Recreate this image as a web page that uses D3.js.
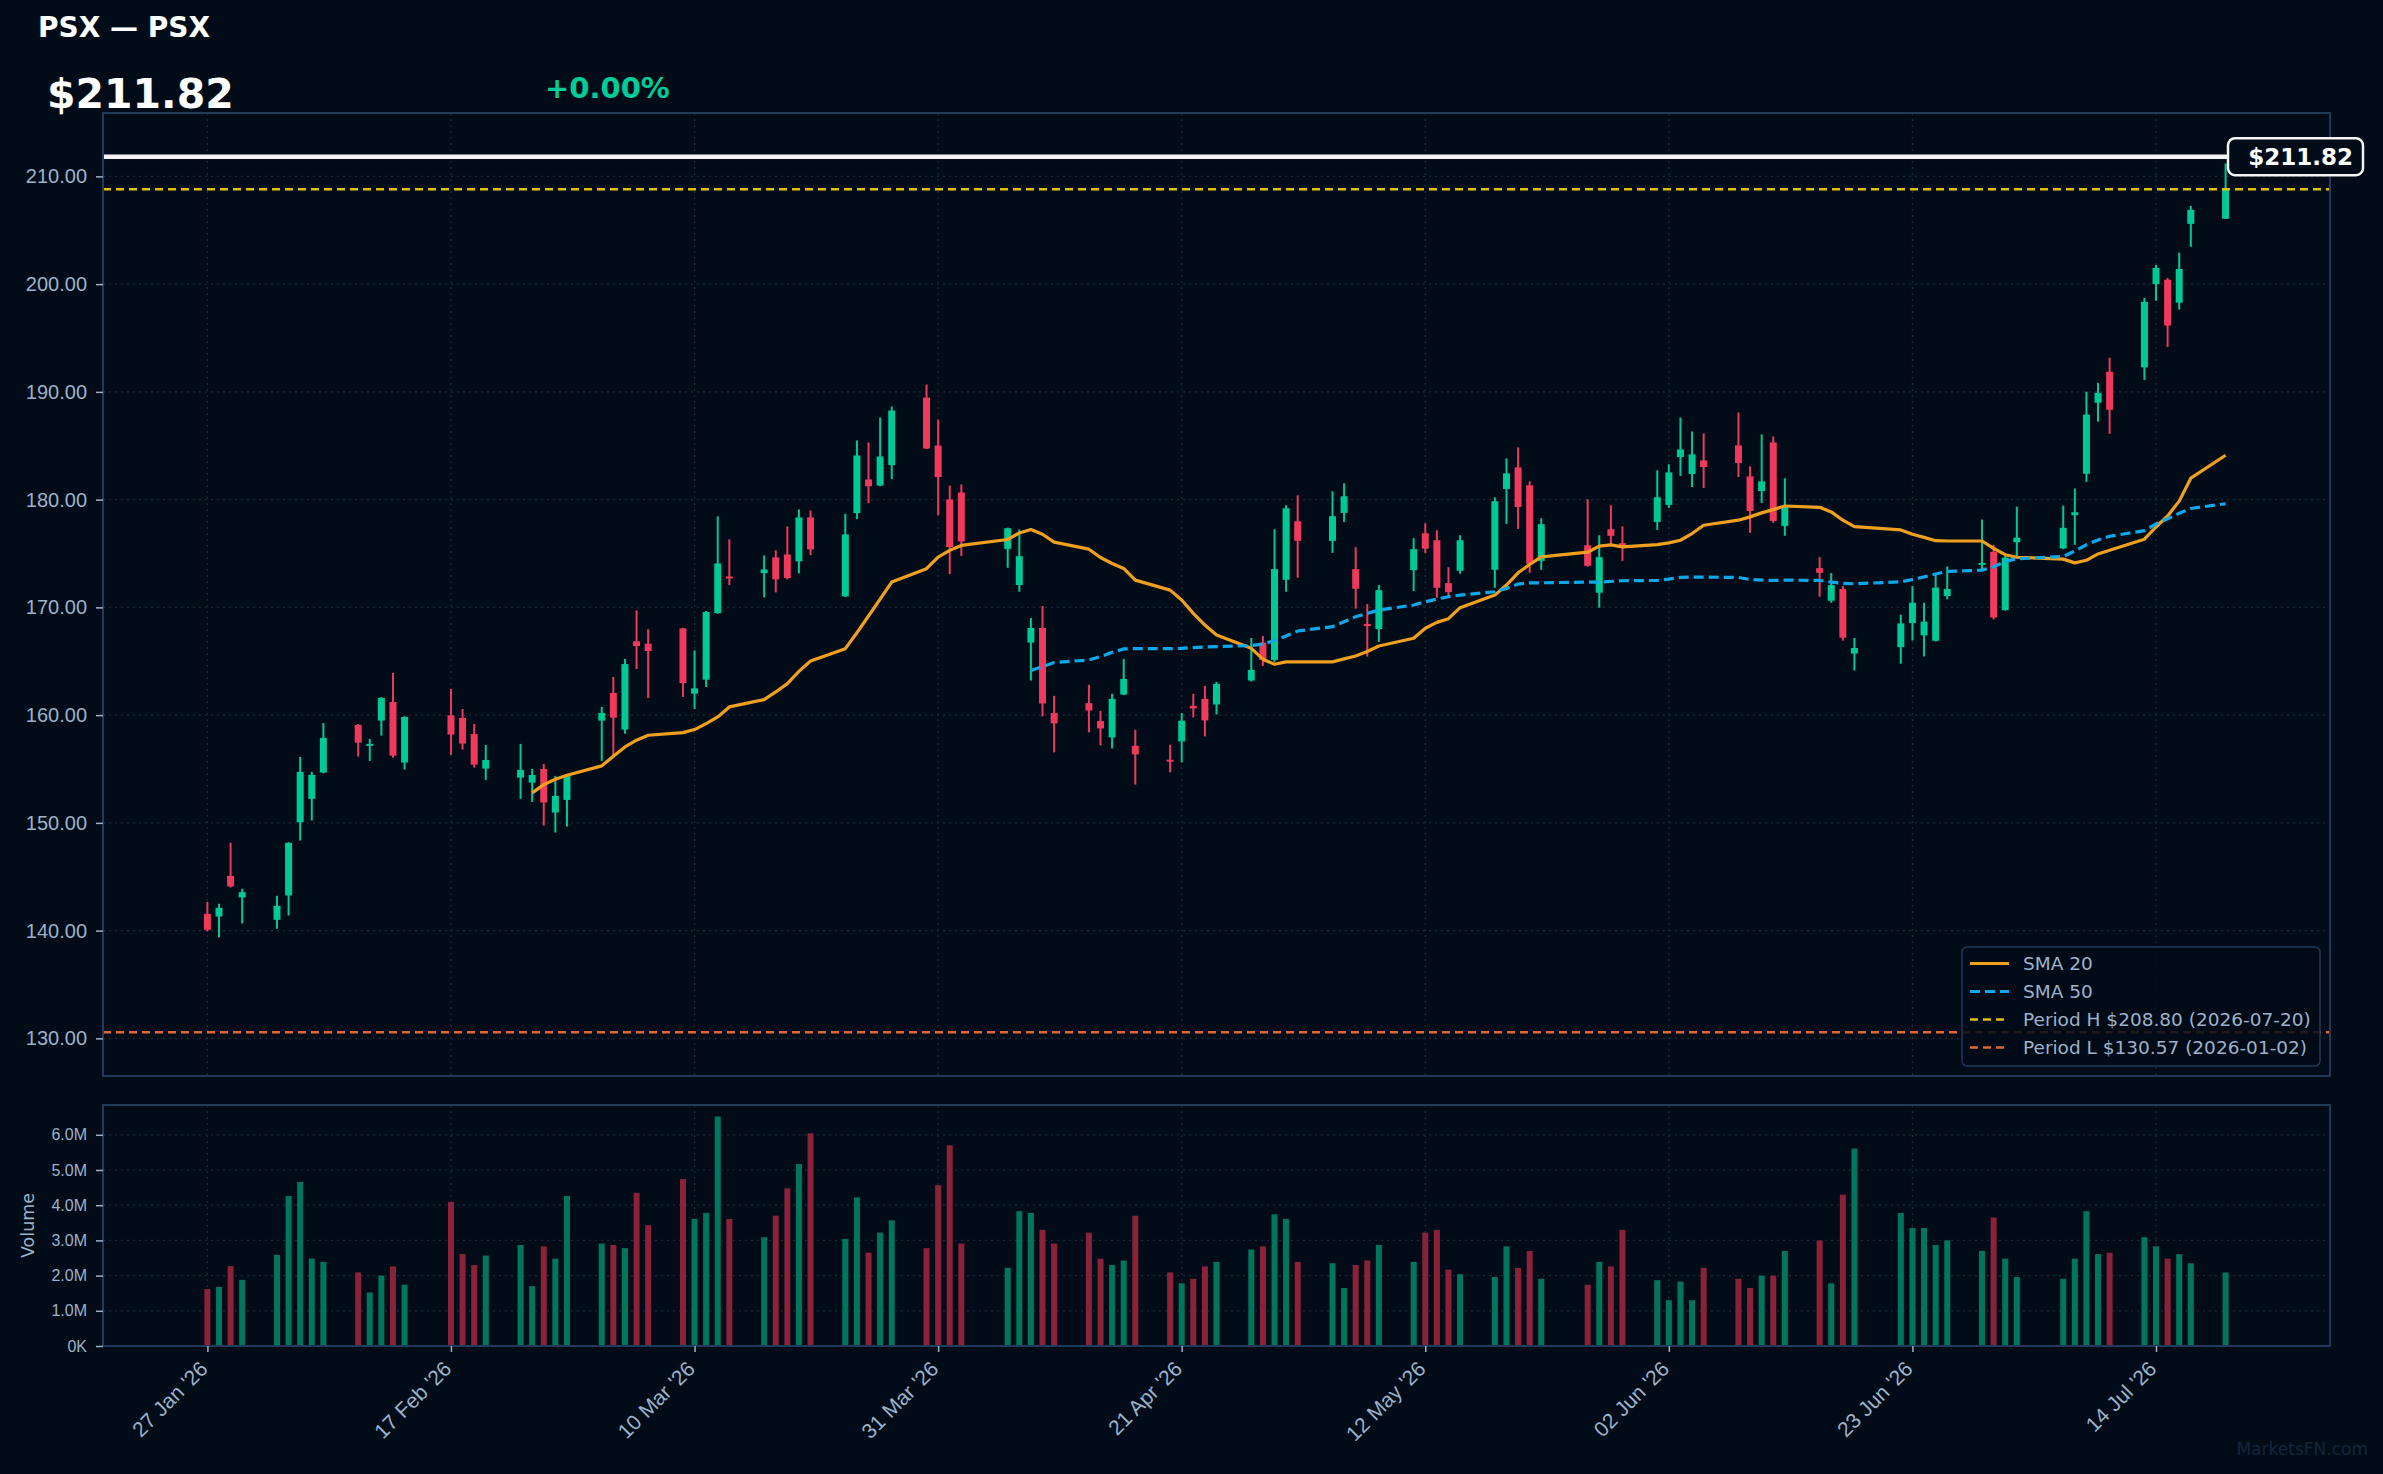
<!DOCTYPE html>
<html>
<head>
<meta charset="utf-8">
<script src="https://cdn.jsdelivr.net/npm/d3@7"></script>
<style>
  body {
    margin: 0;
    background: #010c18;
    font-family: "DejaVu Sans", sans-serif;
  }
  svg { display: block; }
  .grid line { stroke: #1a2a3c; stroke-width: 1.2; stroke-dasharray: 2 4; }
  .axis text { fill: #9db2c9; }
  .axis line { stroke: #9db2c9; stroke-width: 1.5; }
  .axis path { display: none; }
</style>
</head>
<body>
<script>
// trading days shown on the chart
var dates = [
  "2026-01-27","2026-01-28","2026-01-29","2026-01-30",
  "2026-02-02","2026-02-03","2026-02-04","2026-02-05","2026-02-06",
  "2026-02-09","2026-02-10","2026-02-11","2026-02-12","2026-02-13",
  "2026-02-17","2026-02-18","2026-02-19","2026-02-20",
  "2026-02-23","2026-02-24","2026-02-25","2026-02-26","2026-02-27",
  "2026-03-02","2026-03-03","2026-03-04","2026-03-05","2026-03-06",
  "2026-03-09","2026-03-10","2026-03-11","2026-03-12","2026-03-13",
  "2026-03-16","2026-03-17","2026-03-18","2026-03-19","2026-03-20",
  "2026-03-23","2026-03-24","2026-03-25","2026-03-26","2026-03-27",
  "2026-03-30","2026-03-31","2026-04-01","2026-04-02",
  "2026-04-06","2026-04-07","2026-04-08","2026-04-09","2026-04-10",
  "2026-04-13","2026-04-14","2026-04-15","2026-04-16","2026-04-17",
  "2026-04-20","2026-04-21","2026-04-22","2026-04-23","2026-04-24",
  "2026-04-27","2026-04-28","2026-04-29","2026-04-30","2026-05-01",
  "2026-05-04","2026-05-05","2026-05-06","2026-05-07","2026-05-08",
  "2026-05-11","2026-05-12","2026-05-13","2026-05-14","2026-05-15",
  "2026-05-18","2026-05-19","2026-05-20","2026-05-21","2026-05-22",
  "2026-05-26","2026-05-27","2026-05-28","2026-05-29",
  "2026-06-01","2026-06-02","2026-06-03","2026-06-04","2026-06-05",
  "2026-06-08","2026-06-09","2026-06-10","2026-06-11","2026-06-12",
  "2026-06-15","2026-06-16","2026-06-17","2026-06-18",
  "2026-06-22","2026-06-23","2026-06-24","2026-06-25","2026-06-26",
  "2026-06-29","2026-06-30","2026-07-01","2026-07-02",
  "2026-07-06","2026-07-07","2026-07-08","2026-07-09","2026-07-10",
  "2026-07-13","2026-07-14","2026-07-15","2026-07-16","2026-07-17",
  "2026-07-20"
];

var opens = [
  141.56,141.31,145.08,143.08,
  141.00,143.26,150.06,152.23,154.67,
  159.09,157.17,159.49,161.22,155.60,
  159.98,159.74,158.25,155.04,
  154.20,153.74,155.01,150.96,152.13,
  159.49,162.06,158.66,166.85,166.63,
  168.05,161.99,163.29,169.47,172.87,
  173.18,174.64,174.91,174.27,178.35,
  171.02,178.75,181.87,181.31,183.20,
  189.47,185.02,180.02,180.66,
  175.43,172.07,166.73,168.09,160.19,
  161.11,159.44,157.93,161.91,157.16,
  155.86,157.56,160.86,161.51,160.99,
  163.21,166.73,165.12,172.56,177.99,
  176.17,178.77,173.55,168.46,167.99,
  173.46,176.88,176.23,172.25,173.40,
  173.49,180.99,182.99,181.33,174.32,
  175.77,171.36,177.25,175.96,
  177.93,179.51,183.95,182.38,183.64,
  185.03,182.16,180.80,185.31,177.56,
  173.64,170.62,171.70,165.71,
  166.31,168.54,167.41,166.90,171.05,
  174.00,175.16,169.74,176.05,
  175.47,178.56,182.40,188.99,191.87,
  192.28,200.00,200.41,198.28,205.59,
  206.07
];

var highs = [
  142.67,142.49,148.15,143.88,
  143.23,148.20,156.12,154.73,159.27,
  159.18,157.79,161.68,163.91,159.90,
  162.43,160.57,159.18,157.23,
  157.33,155.01,155.47,154.36,154.45,
  160.76,163.54,165.21,169.72,167.96,
  168.10,166.01,169.66,178.44,176.31,
  174.82,175.29,177.51,179.09,179.00,
  178.69,185.49,185.30,187.62,188.64,
  190.68,187.43,181.31,181.41,
  177.40,177.22,169.01,170.12,161.79,
  162.81,160.40,161.98,165.22,158.64,
  157.25,160.19,161.98,162.72,163.09,
  167.16,167.35,177.25,179.48,180.40,
  180.77,181.51,175.59,170.31,172.07,
  176.42,177.81,177.16,173.73,176.70,
  180.22,183.83,184.85,181.70,178.27,
  180.03,176.70,179.48,177.53,
  182.72,183.27,187.62,186.33,186.14,
  188.09,183.09,186.05,185.86,181.98,
  174.66,173.18,171.98,167.16,
  169.33,171.97,170.43,173.10,173.79,
  178.15,175.81,174.79,179.35,
  179.45,181.03,190.02,190.84,193.17,
  198.73,201.78,200.58,202.92,207.27,
  211.20
];

var lows = [
  139.92,139.37,144.00,140.67,
  140.17,141.41,148.36,150.22,154.60,
  156.15,155.75,158.10,156.05,154.95,
  156.31,156.80,155.13,153.99,
  152.23,151.95,149.75,149.10,149.66,
  155.75,156.15,158.28,164.28,161.59,
  161.68,160.57,162.61,169.40,172.07,
  170.93,171.39,172.60,173.15,174.85,
  170.95,178.19,179.68,181.25,181.90,
  184.70,178.56,173.09,174.76,
  173.67,171.45,163.21,159.88,156.54,
  158.40,157.19,156.91,161.85,153.55,
  154.69,155.62,159.78,158.02,160.06,
  163.12,164.57,164.94,171.45,172.75,
  175.06,177.93,169.88,165.43,166.79,
  171.51,175.03,170.90,171.05,173.12,
  171.82,177.75,177.28,173.21,173.49,
  173.77,169.97,175.90,174.32,
  177.19,179.23,182.19,181.17,181.08,
  182.10,176.91,179.69,177.84,176.64,
  170.99,170.43,166.91,164.14,
  164.77,166.93,165.45,166.83,170.74,
  173.48,168.88,169.70,174.72,
  175.40,175.81,181.65,187.24,186.11,
  191.11,198.46,194.17,197.63,203.46,
  206.07
];

var closes = [
  140.08,142.12,144.10,143.57,
  142.30,148.15,154.73,154.45,157.88,
  157.45,157.33,161.59,156.24,159.83,
  158.19,157.36,155.41,155.84,
  154.92,154.45,151.89,152.50,154.39,
  160.20,159.77,164.74,166.41,165.95,
  162.98,162.49,169.57,174.08,172.75,
  173.52,172.60,172.72,178.35,175.38,
  176.77,184.10,181.25,184.00,188.27,
  184.74,182.09,175.60,176.12,
  177.35,174.75,168.09,161.08,159.23,
  160.43,158.77,161.51,163.36,156.36,
  155.80,159.48,160.62,159.51,162.90,
  164.20,165.12,173.55,179.20,176.17,
  178.46,180.31,171.73,168.34,171.60,
  175.40,175.45,171.82,171.42,176.23,
  179.85,182.44,179.32,174.04,177.72,
  173.86,174.66,176.64,175.62,
  180.22,182.53,184.66,184.20,183.02,
  183.40,178.95,181.70,178.02,179.32,
  173.21,172.07,167.19,166.23,
  168.51,170.43,168.68,171.84,171.70,
  174.13,169.06,174.61,176.47,
  177.39,178.83,187.89,189.91,188.34,
  198.35,201.51,196.16,201.41,206.90,
  208.80
];

// volume in millions of shares
var volumes = [
  1.62,1.68,2.27,1.88,
  2.59,4.26,4.66,2.48,2.39,
  2.09,1.52,2.00,2.26,1.74,
  4.09,2.61,2.30,2.57,
  2.87,1.70,2.83,2.48,4.26,
  2.91,2.87,2.78,4.35,3.43,
  4.74,3.61,3.78,6.52,3.61,
  3.09,3.70,4.48,5.17,6.04,
  3.04,4.22,2.65,3.22,3.57,
  2.78,4.57,5.70,2.91,
  2.22,3.83,3.78,3.30,2.91,
  3.22,2.48,2.30,2.43,3.70,
  2.09,1.78,1.91,2.26,2.39,
  2.74,2.83,3.74,3.61,2.39,
  2.35,1.65,2.30,2.43,2.87,
  2.39,3.22,3.30,2.17,2.04,
  1.96,2.83,2.22,2.70,1.91,
  1.74,2.39,2.26,3.30,
  1.87,1.30,1.83,1.30,2.22,
  1.91,1.65,2.00,2.00,2.70,
  3.00,1.78,4.30,5.61,
  3.78,3.35,3.35,2.87,3.00,
  2.70,3.65,2.48,1.96,
  1.91,2.48,3.83,2.61,2.65,
  3.09,2.83,2.48,2.61,2.35,
  2.09
];

// moving averages as drawn, from the 20th and the 50th session on
var sma20 = [
  152.78,153.55,154.05,154.42,
  155.29,156.18,157.05,157.67,158.13,
  158.38,158.66,159.21,159.83,160.76,
  161.44,162.15,162.92,164.06,165.02,
  166.17,167.65,169.20,170.77,172.35,
  173.59,174.67,175.29,175.75,
  176.30,176.91,177.22,176.79,176.05,
  175.40,174.63,174.07,173.61,172.53,
  171.60,170.68,169.44,168.36,167.44,
  166.20,165.19,164.72,164.94,164.94,
  164.94,165.22,165.49,165.90,166.42,
  167.13,168.06,168.61,168.95,169.97,
  171.14,172.07,173.21,173.98,174.69,
  175.12,175.68,175.80,175.62,
  175.83,175.99,176.23,176.85,177.62,
  178.09,178.40,178.77,179.07,179.41,
  179.29,178.86,178.09,177.50,
  177.19,176.78,176.50,176.19,176.16,
  176.16,175.47,174.89,174.65,
  174.48,174.13,174.37,174.96,175.30,
  176.33,177.46,178.49,179.86,181.99,
  184.12
];

var sma50 = [
  164.14,164.51,164.88,
  165.12,165.43,165.83,166.14,166.17,
  166.17,166.20,166.27,166.33,166.36,
  166.45,166.60,166.91,167.35,167.81,
  168.21,168.67,169.14,169.44,169.75,
  170.22,170.52,170.77,170.99,171.14,
  171.45,171.76,172.16,172.28,172.28,
  172.35,172.35,172.41,172.47,
  172.50,172.62,172.78,172.81,172.81,
  172.78,172.59,172.53,172.50,172.53,
  172.50,172.35,172.22,172.19,
  172.37,172.59,172.83,173.10,173.34,
  173.45,173.76,174.27,174.51,
  174.72,175.23,175.81,176.26,176.60,
  177.12,177.74,178.22,178.73,179.18,
  179.62
];

var priceTicks = [130, 140, 150, 160, 170, 180, 190, 200, 210];
var volumeTicks = [0, 1e6, 2e6, 3e6, 4e6, 5e6, 6e6];
var dateTicks = ["2026-01-27","2026-02-17","2026-03-10","2026-03-31","2026-04-21",
                 "2026-05-12","2026-06-02","2026-06-23","2026-07-14"];

var lastPrice = 211.82;
var periodHigh = 208.80, periodHighDate = "2026-07-20";
var periodLow = 130.57, periodLowDate = "2026-01-02";

// ---------------------------------------------------------------
var W = 2383, H = 1474;
var main = {left: 103, right: 2330, top: 113, bottom: 1076};
var vol = {top: 1105, bottom: 1346};

var parse = d3.utcParse("%Y-%m-%d");
var data = dates.map(function(d, i) {
  return {date: parse(d), o: opens[i], h: highs[i], l: lows[i], c: closes[i], v: volumes[i] * 1e6};
});
var day = 864e5;

var x = d3.scaleUtc()
    .domain([new Date(+data[0].date - 9 * day), new Date(+data[data.length - 1].date + 9 * day)])
    .range([main.left, main.right]);

var pad = (lastPrice - periodLow) * 0.05;
var y = d3.scaleLinear()
    .domain([periodLow - pad, lastPrice + pad])
    .range([main.bottom, main.top]);

var yv = d3.scaleLinear()
    .domain([0, d3.max(data, d => d.v) * 1.05])
    .range([vol.bottom, vol.top]);

var green = "#00c896", red = "#f0395c";
var greenVol = "#00775d", redVol = "#8c2239";

var svg = d3.select("body").append("svg")
    .attr("width", W)
    .attr("height", H);

svg.append("rect").attr("width", W).attr("height", H).attr("fill", "#010c18");

// grid
var tickDates = dateTicks.map(parse);
var grid = svg.append("g").attr("class", "grid");
grid.selectAll(".hp").data(priceTicks).enter().append("line")
    .attr("x1", main.left).attr("x2", main.right)
    .attr("y1", d => y(d)).attr("y2", d => y(d));
grid.selectAll(".hv").data(volumeTicks).enter().append("line")
    .attr("x1", main.left).attr("x2", main.right)
    .attr("y1", d => yv(d)).attr("y2", d => yv(d));
grid.selectAll(".vm").data(tickDates).enter().append("line")
    .attr("x1", d => x(d)).attr("x2", d => x(d))
    .attr("y1", main.top).attr("y2", main.bottom);
grid.selectAll(".vv").data(tickDates).enter().append("line")
    .attr("x1", d => x(d)).attr("x2", d => x(d))
    .attr("y1", vol.top).attr("y2", vol.bottom);

// candles
var candle = svg.append("g").selectAll("g")
    .data(data)
  .enter().append("g");

candle.append("line")
    .attr("x1", d => x(d.date)).attr("x2", d => x(d.date))
    .attr("y1", d => y(d.h)).attr("y2", d => y(d.l))
    .attr("stroke", d => d.c >= d.o ? green : red)
    .attr("stroke-width", 2);

candle.append("rect")
    .attr("x", d => x(d.date) - 3.5)
    .attr("width", 7)
    .attr("y", d => y(Math.max(d.o, d.c)))
    .attr("height", d => Math.max(2, Math.abs(y(d.o) - y(d.c))))
    .attr("fill", d => d.c >= d.o ? green : red);

// volume bars
svg.append("g").selectAll("rect")
    .data(data)
  .enter().append("rect")
    .attr("x", d => x(d.date) - 3)
    .attr("width", 6)
    .attr("y", d => yv(d.v))
    .attr("height", d => vol.bottom - yv(d.v))
    .attr("fill", d => d.c >= d.o ? greenVol : redVol);

// moving averages
var line = d3.line().x(d => x(d.date)).y(d => y(d.v));
var sma20Data = sma20.map((v, i) => ({date: data[i + 19].date, v: v}));
var sma50Data = sma50.map((v, i) => ({date: data[i + 49].date, v: v}));

svg.append("path").datum(sma20Data)
    .attr("d", line)
    .attr("fill", "none")
    .attr("stroke", "#f0a01e")
    .attr("stroke-width", 3.2)
    .attr("stroke-linejoin", "round");

svg.append("path").datum(sma50Data)
    .attr("d", line)
    .attr("fill", "none")
    .attr("stroke", "#0ea8ea")
    .attr("stroke-width", 3.2)
    .attr("stroke-dasharray", "10 5");

// period high / low
svg.append("line")
    .attr("x1", main.left).attr("x2", main.right)
    .attr("y1", y(periodHigh)).attr("y2", y(periodHigh))
    .attr("stroke", "#e2c000").attr("stroke-width", 2.5)
    .attr("stroke-dasharray", "8 5");

svg.append("line")
    .attr("x1", main.left).attr("x2", main.right)
    .attr("y1", y(periodLow)).attr("y2", y(periodLow))
    .attr("stroke", "#e0663a").attr("stroke-width", 2.5)
    .attr("stroke-dasharray", "8 5");

// last price
svg.append("line")
    .attr("x1", main.left).attr("x2", main.right)
    .attr("y1", y(lastPrice)).attr("y2", y(lastPrice))
    .attr("stroke", "#f4f4f4").attr("stroke-width", 4.5);

// panel borders
[main, {left: main.left, right: main.right, top: vol.top, bottom: vol.bottom}].forEach(function(p) {
  svg.append("rect")
      .attr("x", p.left).attr("y", p.top)
      .attr("width", p.right - p.left).attr("height", p.bottom - p.top)
      .attr("fill", "none").attr("stroke", "#1f3a5a").attr("stroke-width", 2);
});

// axes
var yAxis = svg.append("g").attr("class", "axis")
    .attr("transform", `translate(${main.left},0)`)
    .call(d3.axisLeft(y).tickValues(priceTicks).tickSize(7).tickPadding(9)
      .tickFormat(d3.format(".2f")));
yAxis.selectAll("text").style("font-size", "20px");

var vAxis = svg.append("g").attr("class", "axis")
    .attr("transform", `translate(${main.left},0)`)
    .call(d3.axisLeft(yv).tickValues(volumeTicks).tickSize(7).tickPadding(9)
      .tickFormat(d => d === 0 ? "0K" : (d / 1e6).toFixed(1) + "M"));
vAxis.selectAll("text").style("font-size", "16px");

var xAxis = svg.append("g").attr("class", "axis")
    .attr("transform", `translate(0,${vol.bottom})`)
    .call(d3.axisBottom(x).tickValues(tickDates).tickSize(6).tickPadding(8)
      .tickFormat(d3.utcFormat("%d %b '%y")));
xAxis.selectAll("text")
    .style("font-size", "21px")
    .style("text-anchor", "end")
    .attr("y", 0).attr("dy", "0.35em")
    .attr("transform", "translate(-4,19) rotate(-45)");

svg.append("text")
    .attr("transform", `translate(34,${(vol.top + vol.bottom) / 2}) rotate(-90)`)
    .attr("text-anchor", "middle")
    .attr("fill", "#9db2c9")
    .style("font-size", "17.5px")
    .text("Volume");

// legend
var legendItems = [
  {label: "SMA 20", color: "#f0a01e", dash: null, w: 3},
  {label: "SMA 50", color: "#0ea8ea", dash: "10 5", w: 3},
  {label: `Period H $${periodHigh.toFixed(2)} (${periodHighDate})`, color: "#e2c000", dash: "8 5", w: 2.5},
  {label: `Period L $${periodLow.toFixed(2)} (${periodLowDate})`, color: "#e0663a", dash: "8 5", w: 2.5}
];
var legend = svg.append("g").attr("transform", "translate(1962,947)");
legend.append("rect")
    .attr("width", 358).attr("height", 119).attr("rx", 5)
    .attr("fill", "rgba(1,12,24,0.85)")
    .attr("stroke", "#1f3a5a").attr("stroke-width", 1.5);
var li = legend.selectAll(".li").data(legendItems).enter().append("g")
    .attr("transform", (d, i) => `translate(0,${16.5 + i * 28})`);
li.append("line")
    .attr("x1", 8).attr("x2", 47)
    .attr("stroke", d => d.color)
    .attr("stroke-width", d => d.w)
    .attr("stroke-dasharray", d => d.dash);
li.append("text")
    .attr("x", 61).attr("dy", "0.35em")
    .attr("fill", "#9db2c9")
    .style("font-size", "18.5px")
    .text(d => d.label);

// last price tag
svg.append("rect")
    .attr("x", 2228).attr("y", y(lastPrice) - 18.5)
    .attr("width", 135).attr("height", 37).attr("rx", 7)
    .attr("fill", "#010c18").attr("stroke", "#f4f4f4").attr("stroke-width", 2.5);
svg.append("text")
    .attr("x", 2353).attr("y", y(lastPrice)).attr("dy", "0.36em")
    .attr("text-anchor", "end")
    .attr("fill", "#ffffff")
    .style("font-size", "23px").style("font-weight", "bold")
    .text("$" + lastPrice.toFixed(2));

// header
svg.append("text")
    .attr("x", 38).attr("y", 37)
    .attr("fill", "#ffffff")
    .style("font-size", "28px").style("font-weight", "bold")
    .text("PSX — PSX");

svg.append("text")
    .attr("x", 47).attr("y", 108)
    .attr("fill", "#ffffff")
    .style("font-size", "41px").style("font-weight", "bold")
    .text("$" + lastPrice.toFixed(2));

svg.append("text")
    .attr("x", 545).attr("y", 98)
    .attr("fill", "#00cc99")
    .style("font-size", "29px").style("font-weight", "bold")
    .text("+0.00%");

svg.append("text")
    .attr("x", 2368).attr("y", 1455)
    .attr("text-anchor", "end")
    .attr("fill", "#15253a")
    .style("font-size", "17px")
    .text("MarketsFN.com");
</script>
</body>
</html>
